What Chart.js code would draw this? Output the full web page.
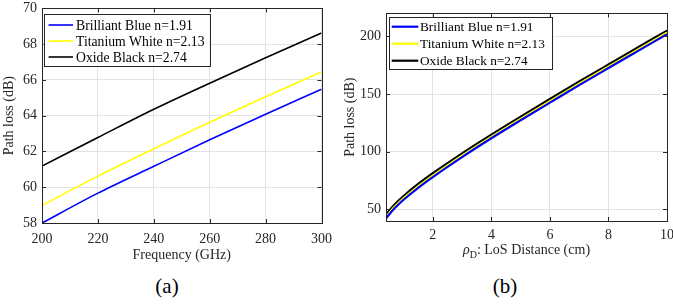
<!DOCTYPE html>
<html lang="en">
<head>
<meta charset="UTF-8">
<title>Path loss vs frequency and distance</title>
<script src="https://cdn.jsdelivr.net/npm/chart.js"></script>
<style>
  body { margin: 0; background: #fff; width: 673px; height: 305px; position: relative; overflow: hidden; font-family: "Liberation Serif", serif; }
  .panel { position: absolute; top: 0; height: 270px; }
  #wa { left: 0; top: -5px; height: 275px; width: 340px; }
  #wb { left: 340px; width: 345px; }
  .cap { position: absolute; top: 273px; font-size: 21px; line-height: 26px; color: #000; transform: translateX(-50%); }
</style>
</head>
<body>
<div class="panel" id="wa"><canvas id="chartA"></canvas></div>
<div class="panel" id="wb"><canvas id="chartB"></canvas></div>
<div class="cap" style="left:167px">(a)</div>
<div class="cap" style="left:505px">(b)</div>

<script>
// series names + colours
const seriesNames = ['Brilliant Blue n=1.91', 'Titanium White n=2.13', 'Oxide Black n=2.74'];
const seriesColors = ['#0000ff', '#ffff00', '#000000'];

// (a) path loss vs frequency
const freqGHz   = [200, 220, 240, 260, 280, 300];
const blueFreq  = [58.00, 59.67, 61.17, 62.65, 64.08, 65.48];
const whiteFreq = [58.98, 60.62, 62.15, 63.63, 65.06, 66.44];
const blackFreq = [61.18, 62.78, 64.36, 65.82, 67.24, 68.62];

// (b) path loss vs LoS distance
const distCm    = [0.4, 0.6, 0.8, 1, 1.5, 2, 3, 4, 5, 6, 7, 8, 9, 10];
const blueDist  = [42.2, 48.5, 53.7, 58.4, 68.8, 78.1, 95.4, 111.7, 127.3, 142.6, 157.8, 172.6, 187.3, 202.0];
const whiteDist = [43.4, 49.7, 54.9, 59.6, 70.0, 79.3, 96.6, 112.9, 128.5, 143.8, 159.0, 173.8, 188.5, 203.2];
const blackDist = [45.5, 51.8, 57.0, 61.7, 72.1, 81.4, 98.7, 114.9, 130.5, 145.8, 160.9, 175.7, 190.4, 205.1];

// tick labels
const freqTicks  = [200, 220, 240, 260, 280, 300];
const lossTicksA = [58, 60, 62, 64, 66, 68, 70];
const distTicks  = [2, 4, 6, 8, 10];
const lossTicksB = [50, 100, 150, 200];

const FONT = 'Liberation Serif';
const INK = '#262626';

// MATLAB-like frame: box, inward ticks, boxed legend, axis titles
const framePlugin = {
  id: 'frame',
  afterDraw(chart, args, o) {
    const { ctx, chartArea: a, scales } = chart;
    ctx.save();
    ctx.strokeStyle = INK;
    ctx.lineWidth = 1;
    ctx.beginPath();
    scales.x.ticks.forEach(t => {
      const px = Math.round(scales.x.getPixelForValue(t.value)) + 0.5;
      ctx.moveTo(px, a.bottom); ctx.lineTo(px, a.bottom - 4);
      ctx.moveTo(px, a.top); ctx.lineTo(px, a.top + 4);
    });
    scales.y.ticks.forEach(t => {
      const py = Math.round(scales.y.getPixelForValue(t.value)) + 0.5;
      ctx.moveTo(a.left, py); ctx.lineTo(a.left + 4, py);
      ctx.moveTo(a.right, py); ctx.lineTo(a.right - 4, py);
    });
    ctx.stroke();
    ctx.strokeRect(Math.round(a.left) + 0.5, Math.round(a.top) + 0.5,
                   Math.round(a.right - a.left), Math.round(a.bottom - a.top));

    // legend
    const L = o.legend;
    const bx = a.left + L.dx, by = a.top + L.dy;
    ctx.fillStyle = '#fff';
    ctx.fillRect(bx, by, L.w, L.h);
    ctx.strokeRect(Math.round(bx) + 0.5, Math.round(by) + 0.5, Math.round(L.w), Math.round(L.h));
    ctx.font = L.size + 'px "' + FONT + '"';
    ctx.textBaseline = 'middle';
    ctx.textAlign = 'left';
    chart.data.datasets.forEach((ds, i) => {
      const ry = by + L.row0 + i * L.rowH;
      ctx.strokeStyle = ds.borderColor;
      ctx.lineWidth = ds.borderWidth;
      ctx.beginPath();
      ctx.moveTo(bx + L.line0, ry); ctx.lineTo(bx + L.line1, ry);
      ctx.stroke();
      ctx.fillStyle = '#000';
      ctx.fillText(ds.label, bx + L.text, ry + 1);
    });

    // y title
    ctx.fillStyle = INK;
    ctx.font = '14px "' + FONT + '"';
    ctx.save();
    ctx.translate(o.yTitleX, (a.top + a.bottom) / 2);
    ctx.rotate(-Math.PI / 2);
    ctx.textAlign = 'center';
    ctx.textBaseline = 'middle';
    ctx.fillText('Path loss (dB)', 0, 0);
    ctx.restore();

    // x title
    const cx = (a.left + a.right) / 2, ty = a.bottom + o.xTitleDy;
    ctx.textBaseline = 'middle';
    ctx.textAlign = 'left';
    if (o.xTitleSub) {
      const parts = o.xTitleSub;
      ctx.font = 'italic 14px "' + FONT + '"';
      const w0 = ctx.measureText(parts[0]).width;
      ctx.font = '10px "' + FONT + '"';
      const w1 = ctx.measureText(parts[1]).width;
      ctx.font = '14px "' + FONT + '"';
      const w2 = ctx.measureText(parts[2]).width;
      let x = cx - (w0 + w1 + w2) / 2;
      ctx.font = 'italic 14px "' + FONT + '"';
      ctx.fillText(parts[0], x, ty); x += w0;
      ctx.font = '10px "' + FONT + '"';
      ctx.fillText(parts[1], x, ty + 5); x += w1;
      ctx.font = '14px "' + FONT + '"';
      ctx.fillText(parts[2], x, ty);
    } else {
      ctx.textAlign = 'center';
      ctx.fillText(o.xTitle, cx, ty);
    }
    ctx.restore();
  }
};

function fixedTicks(values) {
  return scale => { scale.ticks = values.map(v => ({ value: v })); };
}

function makeChart(id, xs, ys, p) {
  return new Chart(document.getElementById(id), {
    type: 'line',
    data: {
      labels: xs,
      datasets: ys.map((d, i) => ({
        label: seriesNames[i],
        data: d.map((v, j) => ({ x: xs[j], y: v })),
        borderColor: seriesColors[i],
        borderWidth: p.lw,
        pointRadius: 0,
        cubicInterpolationMode: 'monotone'
      }))
    },
    options: {
      responsive: true,
      maintainAspectRatio: false,
      animation: false,
      layout: { padding: p.pad },
      scales: {
        x: {
          type: 'linear', min: p.xMin, max: p.xMax,
          afterBuildTicks: fixedTicks(p.xTicks),
          afterFit: s => { s.height = p.xH; },
          grid: { color: '#e3e3e3', drawTicks: false },
          border: { display: false },
          ticks: { color: INK, padding: p.xPad, maxRotation: 0, autoSkip: false, font: { family: FONT, size: 14 } }
        },
        y: {
          type: 'linear', min: p.yMin, max: p.yMax,
          afterBuildTicks: fixedTicks(p.yTicks),
          afterFit: s => { s.width = p.yW; },
          grid: { color: '#e3e3e3', drawTicks: false },
          border: { display: false },
          ticks: { color: INK, padding: 5, autoSkip: false, font: { family: FONT, size: 14 } }
        }
      },
      plugins: {
        legend: { display: false },
        tooltip: { enabled: false },
        frame: p.frame
      }
    },
    plugins: [framePlugin]
  });
}

makeChart('chartA', freqGHz, [blueFreq, whiteFreq, blackFreq], {
  lw: 1.6, pad: { top: 2, right: 15, left: 0, bottom: 0 },
  xMin: 200, xMax: 300, xTicks: freqTicks, xH: 47, xPad: 8,
  yMin: 58, yMax: 70, yTicks: lossTicksA, yW: 42,
  frame: {
    legend: { dx: 1.6, dy: 6, w: 166, h: 52, row0: 10.6, rowH: 16, line0: 5, line1: 29.4, text: 32.4, size: 13.7 },
    yTitleX: 9, xTitleDy: 32, xTitle: 'Frequency (GHz)'
  }
});

makeChart('chartB', distCm, [blueDist, whiteDist, blackDist], {
  lw: 2.2, pad: { top: 8, right: 18, left: 0, bottom: 0 },
  xMin: 0.4, xMax: 10, xTicks: distTicks, xH: 49, xPad: 6,
  yMin: 40, yMax: 220, yTicks: lossTicksB, yW: 46,
  frame: {
    legend: { dx: 3.3, dy: 4, w: 163, h: 52, row0: 9.3, rowH: 17, line0: 2.4, line1: 29, text: 30.7, size: 13.3 },
    yTitleX: 10, xTitleDy: 29, xTitleSub: ['\u03c1', 'D', ': LoS Distance (cm)']
  }
});
</script>
</body>
</html>
